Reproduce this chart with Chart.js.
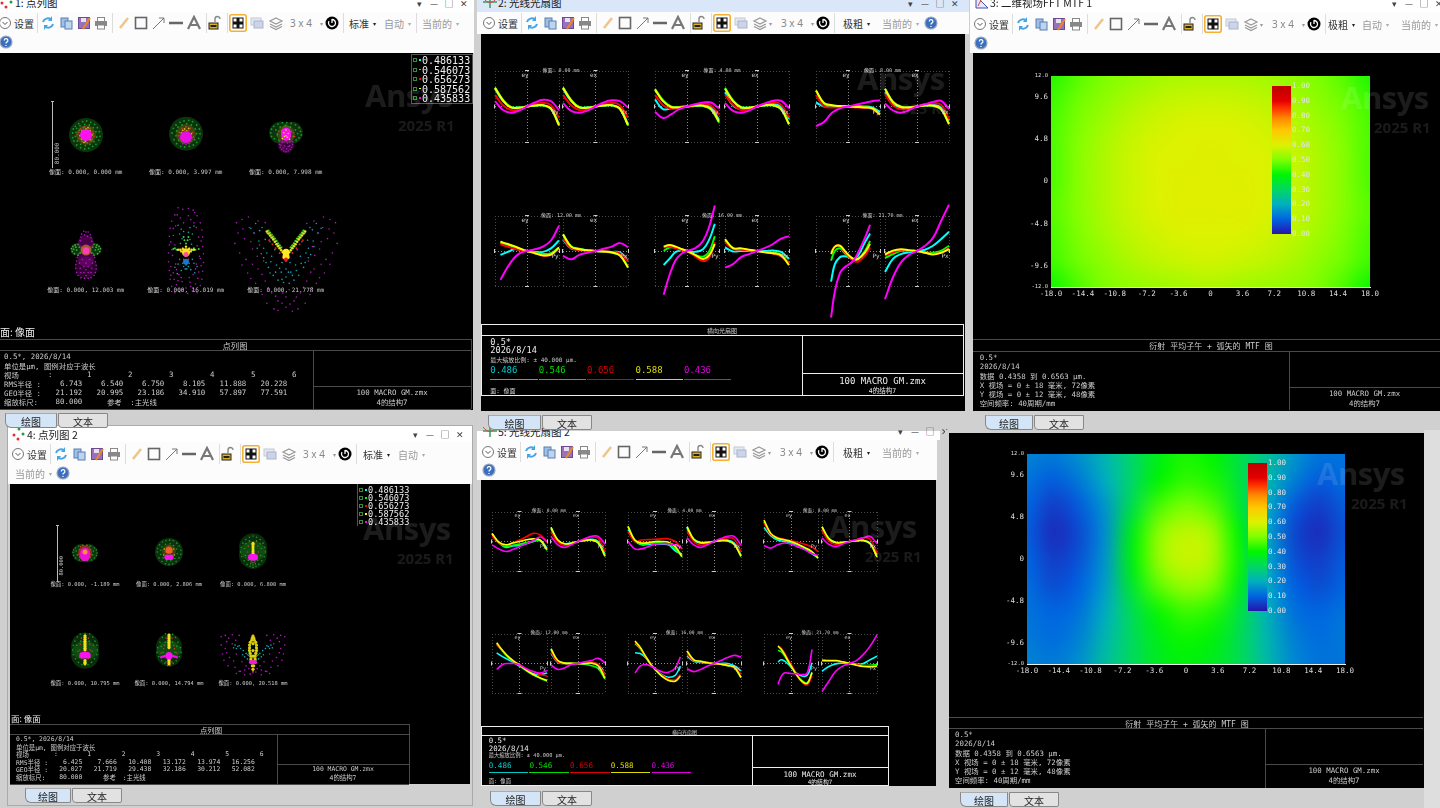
<!DOCTYPE html>
<html>
<head>
<meta charset="utf-8">
<script src="https://cdn.jsdelivr.net/npm/chart.js@4"></script>
<style>
html,body{margin:0;padding:0;background:#cfcfcf;overflow:hidden}
#root{position:relative;width:1440px;height:808px;overflow:hidden;filter:blur(.35px)}
#root div,#root span,#root canvas,#root svg{position:absolute}
#root span{white-space:pre;line-height:1}
</style>
</head>
<body>
<div id="root"></div>
<script>
// ---------- wavelengths ----------
const waveLabels = ["0.486", "0.546", "0.656", "0.588", "0.436"];
const waveLong = ["0.486133", "0.546073", "0.656273", "0.587562", "0.435833"];
const waveColors = ["#00ffff", "#00ff00", "#ff0000", "#ffff00", "#ff00ff"];
const waveTextColors = ["#00c8c8", "#00dc00", "#dc0000", "#dcdc00", "#dc00dc"];

// ---------- spot diagram tables ----------
const fieldsTop = ["0.000, 0.000", "0.000, 3.997", "0.000, 7.998", "0.000, 12.003", "0.000, 16.019", "0.000, 21.778"];
const fieldsBottom = ["0.000, -1.189", "0.000, 2.806", "0.000, 6.800", "0.000, 10.795", "0.000, 14.794", "0.000, 20.518"];
const rmsTop = ["6.743", "6.540", "6.750", "8.105", "11.888", "20.228"];
const geoTop = ["21.192", "20.995", "23.186", "34.910", "57.897", "77.591"];
const rmsBottom = ["6.425", "7.666", "10.408", "13.172", "13.974", "16.256"];
const geoBottom = ["20.027", "21.719", "29.438", "32.186", "30.212", "52.082"];

// spot points in um, x,y,x,y...
const spotA1_g = [-20,3,-19,9,-16,13,-11,17,-5,20,1,21,7,19,13,16,17,11,20,5,21,-2,19,-8,15,-14,10,-17,4,-20,-2,-21,-8,-19,-14,-15,-18,-9,-20,-4,-15,4,-14,10,-9,14,-2,16,5,15,11,11,15,5,16,-3,12,-10,6,-14,-1,-16,-8,-14,-13,-9,-16,-2,-10,7,-4,11,6,10,11,2,9,-7,0,-11,-6,-9];
const spotA1_r = [-11,4,-8,9,-2,12,5,10,10,5,12,-2,8,-9,2,-12,-5,-10,-10,-5,-13,1,-6,7,7,7,9,-4];
const spotA1_y = [-9,-1,-6,6,0,9,6,6,9,0,6,-7,-1,-9,-7,-6,3,11,-3,-11];
const spotA1_core = [0,0];
const spotA2_g = [-21,3,-19,10,-15,15,-9,19,-3,21,4,22,10,20,16,15,20,9,21,2,19,-5,16,-11,11,-15,5,-17,-2,-18,-8,-17,-14,-13,-18,-7,-14,6,-12,12,-6,15,1,17,8,15,14,9,16,2,13,-7,-11,-8,-15,-1];
const spotA2_r = [-10,4,-6,10,0,12,6,10,10,4,11,-3,7,-9,-8,-7,-11,-1,-3,7,4,7];
const spotA2_y = [-7,3,-2,9,4,10,8,2,-5,7,1,6,6,-4,-6,-3];
const spotA2_m = [-7,-10,-3,-12,3,-12,7,-9,-9,-5,9,-5,-5,-13,5,-13,0,-14];
const spotA2_core = [0,-3];
const spotA3_g = [-21,3,-20,8,-17,12,-11,15,-5,17,1,17,7,16,13,14,18,10,20,5,21,0,18,-4,14,-7,-16,-5,-20,-2,-10,-7,-14,7,-8,11,-1,13,6,11,13,7,16,2,10,-2,-12,1,-6,6,7,5];
const spotA3_r = [-5,3,-10,5,-12,-1,4,7,10,3,12,-2,-2,9,6,-2];
const spotA3_y = [-3,3,0,7,3,2,-2,-2,2,-3,0,-1,-5,-5,5,-6];
const spotA3_m = [-9,-9,-9,-13,-8,-17,-6,-20,-3,-22,0,-23,3,-22,6,-20,8,-17,9,-13,9,-9,-5,-10,-2,-15,2,-11,5,-15,-4,-18,1,-19,0,-7,-7,-14,6,-9,3,-16];
const spotA3_core = [0,-1,0,3];
const spotA4_g = [-20,6,-19,2,-18,9,-16,-1,-15,11,-13,4,-11,-3,-11,12,-9,8,20,6,19,2,18,9,16,-1,15,11,13,4,11,-3,11,12,9,8,-17,5,17,5,-14,8,14,8,-8,0,8,0];
const spotA4_m = [-3,30,0,29,3,29,-6,26,6,25,-7,22,7,21,-2,25,2,23,-8,17,8,16,-12,-6,12,-6,-13,-11,13,-12,-14,-16,14,-17,-14,-21,14,-22,-13,-27,13,-27,-11,-31,11,-31,-7,-34,7,-34,-2,-35,3,-35,-9,-14,9,-14,-8,-21,8,-21,-7,-27,7,-27,-3,-19,3,-19,-3,-27,3,-27,0,-14,0,-23,0,-31,-5,-9,5,-9,-10,-1,10,-1];
const spotA4_haze = [0,14,0,-8];
const spotA4_core = [0,3];
const spotA5_m = [-10,57,-4,55,3,56,9,54,-14,48,14,47,-18,40,-7,44,6,42,18,38,-20,31,20,29,-13,34,13,32,-21,21,21,20,-16,22,16,20,-21,10,21,8,-14,10,14,9,-22,0,22,-1,-17,-3,17,-4,-22,-11,22,-12,-13,-14,13,-14,-21,-22,21,-23,-16,-25,16,-24,-20,-33,20,-33,-9,-27,9,-27,-18,-42,18,-41,-12,-40,12,-39,-5,-36,5,-37,-8,-49,8,-48,0,-44,-14,-50,14,-50,2,-51,-11,48,11,51,-16,31,3,47,-3,38,10,38,-19,14,19,15,-18,4,18,-7,-19,-17,19,-16,-15,-33,15,-32,-19,-28,9,-44,-4,-46,-6,-31,4,-31,-12,-21,12,-20,-10,-35,6,-42];
const spotA5_c = [-10,35,-6,30,5,32,10,34,-8,24,8,24,-5,18,5,17,-3,27,3,26,-7,12,7,11,-4,-13,4,-13,-3,-17,3,-17,-1,-20,1,-20,0,-15,-8,-8,8,-8,-10,-14,10,-13,-6,-22,6,-21,-14,-18,14,-17,-11,-26,11,-25];
const spotA5_g = [-16,5,-12,4,-8,4,-4,6,16,5,12,4,8,4,4,6,-14,6,10,6,0,12,-2,16,2,16,-3,20,3,20];
const spotA5_y = [-10,4,-7,4,-4,5,10,4,7,4,4,5,0,8,-6,2,6,2];
const spotA5_r = [-3,-8,3,-8,0,-10];
const spotA5_blue = [0,-11];
const spotA5_core = [0,1];
const spotA5_pink = [0,-2];
const spotA6_m = [-62,38,-55,42,-47,45,-35,40,-60,25,-64,12,-52,18,-40,25,62,38,55,42,47,45,35,40,60,25,64,12,52,18,40,25,-58,0,-50,-8,-42,5,58,0,50,-8,42,5,-48,-25,-35,-20,48,-25,35,-20,-38,-38,-26,-35,38,-38,26,-35,-30,-52,-18,-50,30,-52,18,-50,-24,-63,-10,-60,24,-63,10,-60,-10,-72,0,-68,8,-73,0,-55,-28,-10,28,-10,-46,32,46,32,-15,-70,15,-70,-54,30,-44,14,-33,10,-55,-15,-42,-14,-30,-27,-44,-32,-22,-44,-13,-54,-5,-63,5,-64,13,-55,22,-43,33,-44,42,-31,31,-24,44,-14,55,-14,33,8,44,14,54,30,-26,38,26,37,-36,-4,36,-3,-4,-50,4,-46];
const spotA6_c = [-38,37,-30,32,-24,25,-34,15,-28,6,-20,14,-28,-6,-18,-4,-22,-18,-12,-15,-16,-28,-6,-24,-10,-34,0,-30,38,37,30,32,24,25,34,15,28,6,20,14,28,-6,18,-4,22,-18,12,-15,16,-28,6,-24,10,-34,40,25,-40,25,0,-20,-5,-12,5,-12,-14,4,14,4,-33,28,-26,17,-36,6,-31,-1,-24,0,-25,-12,-19,-11,-20,-25,-13,-24,-5,-33,-8,-19,3,-24,8,-28,13,-22,19,-13,24,-12,25,0,31,-2,35,8,27,16,33,29,-44,31,44,31,-3,-37,4,-38];
const spotA6_y = [-24,27,-22,24.5,-20,22,-18,19.5,-16,17,-14,14,-12,11,-10,8.5,-8,6,-6,3.5,-4,1,24,27,22,24.5,20,22,18,19.5,16,17,14,14,12,11,10,8.5,8,6,6,3.5,4,1];
const spotA6_g = [-22,28,-20,25.5,-18,23,-16,20.5,-14,18,-12,15,-10,12,-8,9.5,-6,7,22,28,20,25.5,18,23,16,20.5,14,18,12,15,10,12,8,9.5,6,7];
const spotA6_r = [-21,16,-17,11,-13,6,-8,0,21,16,17,11,13,6,8,0,-4,-6,4,-6,0,-10];
const spotA6_core = [0,1,0,-4];

const spotB1_g = [-19,1,-18,5,-15,8,-10,11,-4,12,3,12,9,11,15,8,18,5,19,0,18,-4,15,-8,10,-11,4,-12,-3,-12,-9,-11,-15,-8,-18,-4,-14,3,-12,-3,13,3,12,-3,-8,6,8,6,-8,-6,8,-6];
const spotB1_r = [-7,10,-3,12,3,12,7,10,-9,5,9,5,-9,-2,9,-2,-8,-7,8,-7,-4,-11,4,-11];
const spotB1_halo = [-6,0,6,0];
const spotB1_core = [0,0,0,-5];
const spotB1_orange = [0,1.5];
const spotB2_g = [-20,0,-19,6,-16,12,-11,17,-5,19,1,20,7,19,13,15,17,10,20,3,20,-4,17,-10,12,-16,6,-20,0,-21,-6,-20,-12,-16,-17,-10,-14,3,-12,9,-6,13,2,14,8,11,13,5,14,-3,10,-11,3,-15,-4,-15,-10,-10,-14,-4];
const spotB2_r = [-5,4,5,4,-3,8,3,8,0,10,-6,0,6,0];
const spotB2_y = [0,4,-3,1,3,1,-8,5,8,5,-1,-11,1,-11,-9,-5,9,-5];
const spotB2_orange = [0,3];
const spotB2_core = [-3,-9,3,-9];
const spotB3_g = [-21,0,-20,8,-17,15,-12,21,-6,25,0,27,6,25,12,21,17,15,20,8,21,0,19,-8,15,-15,10,-21,5,-24,0,-26,-5,-24,-10,-21,-15,-15,-19,-8,-14,6,-12,14,-6,19,6,19,12,14,14,6,13,-6,8,-14,-8,-14,-13,-6,-4,-20,4,-20,0,-18,0,-22,-2,-14,2,-14];
const spotB3_r = [-8,10,8,10,-9,0,9,0,-6,18,6,18,-6,-10,6,-10,-3,-17,3,-17];
const spotB3_y = [0,15,0,13,0,10,0,7,0,4,0,1,0,-2,0,-5];
const spotB3_core = [0,-9,-3,-9,3,-9];
const spotB4_g = [-8,27,0,28,8,27,-13,22,13,22,-17,15,17,15,-20,8,20,8,-21,0,21,0,-20,-8,20,-8,-16,-15,16,-15,-11,-21,11,-21,-5,-25,5,-25,0,-26,-14,8,14,8,-12,-2,12,-2,-7,15,7,15,-9,-12,9,-12];
const spotB4_r = [-6,20,6,20,-8,10,8,10,-9,0,9,0,-6,-14,6,-14];
const spotB4_y = [0,24,0,21,0,18,0,15,0,12,0,9,0,6,0,3,0,0,0,-18,0,-21,0,-23];
const spotB4_core = [0,-9,-4,-9,4,-9];
const spotB5_g = [-6,27,0,26,6,26,-11,21,11,21,-15,13,15,13,-19,4,19,4,-20,-4,20,-4,-17,-11,17,-11,-12,-18,12,-18,-7,-22,7,-22,-13,6,13,6,-10,-4,10,-4,-6,13,6,13];
const spotB5_r = [-5,20,5,20,-8,8,8,8,-13,-5,13,-5,-5,-20,5,-20,-2,-26,2,-26,-9,2,9,2];
const spotB5_y = [0,25,0,22,0,19,0,16,0,13,0,10,0,7,0,4,0,-14,0,-17,0,-20,0,-23];
const spotB5_m = [-13,-12,-10,-11,-7,-10,13,-12,10,-11,7,-10,-2,-14,2,-14];
const spotB5_core = [0,-9];
const spotB6_m = [-46,22,-40,24,-30,25,-20,24,46,22,40,24,30,25,20,24,-46,10,-40,5,-30,12,46,10,40,5,30,12,-44,-3,-34,-8,-24,-3,44,-3,34,-8,24,-3,-36,-20,-26,-22,-16,-14,36,-20,26,-22,16,-14,-24,-31,-12,-26,24,-31,12,-26,-12,-33,0,-30,12,-33,-18,-28,18,-28,-38,15,38,15,-6,-24,6,-24,-35,20,-25,17,-38,-1,-28,-13,-20,-28,-10,-20,-4,-32,4,-29,10,-20,20,-28,28,-13,38,-1,25,17,35,20,-42,-12,42,-12];
const spotB6_c = [-26,10,-22,8,-18,5,-14,2,-10,-2,-6,-5,26,10,22,8,18,5,14,2,10,-2,6,-5,-24,5,24,5,-15,-4,15,-4,-8,-10,8,-10,-28,6,28,6,-20,9,20,9,-12,-7,12,-7];
const spotB6_g = [-8,-4,8,-4,-5,-12,5,-12,-4,8,4,8,-6,0,6,0];
const spotB6_y = [0,23,-1,20,1,20,-2,17,2,17,-4,14,4,14,-5,10,5,10,-5,6,5,6,-5,2,5,2,-4,-2,4,-2,-3,-6,3,-6,-3,-10,3,-10,-2,-14,2,-14,-1,-20,1,-20,0,-25,0,-6,0,2,0,12];
const spotB6_r = [0,24,0,-28,-2,21,2,21,-1,-25,1,-25,-6,4,6,4,-5,-2,5,-2];
const spotB6_core = [0,-15,-3,-15,3,-15];

// ---------- ray fans: um at pupil positions, order cyan, green, red, yellow, magenta ----------
const pupilFull = [-1,-.75,-.5,-.25,0,.25,.5,.75,1];
const pupil12y = [-.83,-.6,-.4,-.2,0,.25,.5,.75,1];
const pupil16y = [-.73,-.55,-.35,-.15,0,.25,.5,.7,.87];
const pupil21y = [-.53,-.41,-.25,-.13,0,.17,.32,.53,.69];
const pupilLow12y = [-.83,-.6,-.4,-.2,0,.25,.5,.75,1];
const pupilLow16y = [-.74,-.55,-.35,-.15,0,.25,.5,.75,.94];
const pupilLow21y = [-.48,-.37,-.25,-.1,0,.2,.4,.6,.78];

const fanA1y = [[20,6,-1,-1.2,0,1,1.5,-2,-20],[21.5,7.5,-.5,-1,0,1,1,-3,-21.5],[13,1.5,-4,-3.5,0,3,4,1.5,-13],[21,7,-1,-1.5,0,1.2,1.5,-2.5,-21],[6,-4,-7,-4.5,0,4.5,7.5,6,-4]];
const fanA1x = [[20,6,-1,-1.2,0,1,1.5,-2,-20],[21.5,7.5,-.5,-1,0,1,1,-3,-21.5],[13,1.5,-4,-3.5,0,3,4,1.5,-13],[21,7,-1,-1.5,0,1.2,1.5,-2.5,-21],[4,-5,-7,-4.5,0,4.5,7,6,-1]];
const fanA2y = [[8,-3,-2,-.5,0,.5,1.5,-1,-15],[20,7,0,-.5,0,.5,.5,-3.5,-18],[13,1.5,-2.5,-1.5,0,1.5,3,1,-9],[19,6,-.5,-1,0,1,1,-3,-17],[-6,-13,-9,-3,0,2.5,4.5,4.5,-2]];
const fanA2x = [[16,1,-3,-2,0,2,3,0,-14],[21,7,-.5,-1,0,1,1,-3,-20],[13,2,-4,-3,0,3,4.5,2,-12],[20,6,-1,-1.5,0,1.5,1.5,-3,-20],[4,-5,-7,-4.5,0,3.5,6.5,6.5,-2]];
const fanA3y = [[4.5,0,0,.2,.3,.3,0,-1,-6],[18,3,1,.5,0,0,-.5,-2,-8],[13,0,-1,-.7,-.5,-1,-1.5,-2.5,-9],[18,4,1.5,.5,0,-.5,-1,-2,-9],[-22,-17.5,-7,-2,0,2,4,6,7]];
const fanA3x = [[16,2,-2,-1,0,1.5,2,-1,-16],[20,5.5,0,-1,0,1,.5,-3,-19],[14,1,-3,-2,0,2.5,3.5,2,-14],[20,5,-.5,-1,0,1,1,-3,-20],[3.5,-4.5,-7,-4,0,2.5,5,6.5,-3]];
const fanA4y = [[-4.5,-1,2,1.5,0,-1,-1,3,12],[9.5,7,4.5,2.5,0,-2,-3.5,-2.5,4],[7.5,5,2.5,1,0,-2.5,-5.5,-4.5,3],[10.5,8,5.5,2.5,0,-2.5,-5,-4,4],[-33,-18,-8,-2,0,2,5,12,29]];
const fanA4x = [[13,3,1.5,.7,0,-.5,-1,-1.5,-11],[19,5.5,2.5,1,0,-1,-2,-5,-18],[14,3.5,1,.5,0,-.5,-1,-3,-12],[19,5,2,1,0,-.7,-1.5,-5,-19],[-5.5,-9.5,-4.5,-2,0,2.5,5,9,4.5]];
const fanA5y = [[-16,-9,-1,1,0,-1,2,13.5,31],[0,4,4,1.5,0,-4.5,-6.5,0,17],[4,5,3,1,0,-6,-11.5,-7,10],[5,7,5,2,0,-4.5,-9,-4.5,8],[-50,-28,-10,-2.5,0,3,11.5,28.5,52]];
const fanA5x = [[4,-.5,0,0,0,0,.5,-1,-9],[12,3,2.5,1,0,-1,-2,-4,-14],[10,2.5,1.5,.7,0,-1.5,-3,-6,-13],[13.5,3.4,3,1.5,0,-1.5,-2.5,-5,-16],[-19,-15,-7,-3.5,0,3.5,8,14,17]];
const fanA6y = [[-35,-15,-7,-6,-6.5,-9,-5,10,20],[-11,0,3,-1.5,-6,-10,-9,0,11.5],[-1.5,5,6,0,-5,-11,-12,-5,4],[-3.5,5,6,1.5,-4,-9,-9,-1.5,8],[-76,-46,-25,-19.5,-16,-11,-1.5,15,30]];
const fanA6x = [[-24,-9,-3.5,-1.5,0,1.5,6,13.5,22],[-8,-3.5,.4,.4,0,-1.5,-2,0,6],[-5,-1.5,1,.4,0,-2,-3.5,-2,3.5],[-4,.4,2,1,0,-2,-4,-2,2],[-55,-30,-13,-4.5,0,6,15,34,53]];

const fanB1y = [[10,-1,-8,-6,-5.5,-3,0,2,-9],[11,-2,-7,-5,-3.6,-1.5,0,1,-12],[7,-2,-4.5,-2,2,6.5,11,9,-1],[11,-1,-4.5,-2,0,2.3,3.6,2,-11],[-4.5,-10,-13.6,-11,-7,-3,1.4,6,0]];
const fanB1x = [[17,1,-3,-2,0,2,3,0,-17],[19,2,-3,-2.5,0,1.5,2,-2,-20],[13,-.5,-5.5,-3.5,0,3,6,4.5,-13],[19,2,-3,-2.5,0,1.5,2,-2,-20],[7,-4.5,-8,-4.5,0,3.6,7,7,-3.6]];
const fanB2y = [[16,1,-4.5,-4,-3.6,-3.5,-4.5,-12.5,-17],[20.5,2,-3.6,-2.5,-1.4,-2,-3.6,-10,-20.5],[13.6,0,2,2.5,3,3.5,3.6,0,-10],[20.5,2,-2,-1.5,0,0,-1,-7,-20.5],[0,-10,-10,-7,-3.6,-3,-3,-4.5,-9]];
const fanB2x = [[18,1,-2,-1,0,1,2,-2,-18],[20,3.5,-1,-1,0,1,.5,-4,-20],[14,0,-5,-3,0,3,5,3,-14],[20,3,-1.5,-1.5,0,1.5,1,-4,-20],[5,-4.5,-8,-4.5,0,4,7,7,-5]];
const fanB3y = [[19,8,2,0,-2,-7,-10,-16,-22],[27,10,4,2,-.5,-4,-8.5,-14,-23],[25,10,5.5,3,1,-1,-3.6,-7,-13.6],[29,11,4.5,2.3,0,-3.6,-8,-13,-22],[-5.5,-9,-4.5,-2,-3.6,-7,-11,-16,-19]];
const fanB3x = [[16,2,-1.5,-1,0,1,1.5,-2,-17],[20,4,-1,-1,0,1,1,-3,-21],[15,.5,-4,-2.5,0,2.5,5,3,-15],[20,4,-1.5,-1.5,0,1,1.5,-3,-21],[5,-4,-7,-3.5,0,2.5,5,7,-3]];
const fanB4y = [[14.5,9,5,1,-3.6,-9,-14,-15,-13],[26,16,8,2.5,-3,-10,-15.5,-20,-24],[27,17,9,3,-2,-8,-11,-15,-17],[28,17,9,3,-2,-9,-15,-19.5,-23],[-8,-1,0,0,-2,-7,-11,-13,-9.5]];
const fanB4x = [[14,1.5,0,0,0,.5,1,-1.5,-15],[19,4,1,.5,0,-1,-3,-7,-21],[15,2,0,0,0,.5,1,-1,-15],[20,4,.5,.2,0,-.2,.5,-3.5,-20],[-2,-8,-6,-1.5,0,2.3,4,7,1]];
const fanB5y = [[14.5,13.5,8,-1.5,-7,-15,-18.6,-16,-3.6],[27,20,9,-1,-8,-17,-22.5,-23,-16],[29.5,21,9.5,-1,-7,-15.5,-21,-22,-15],[30.5,22,10,-1.5,-8,-17,-23,-24,-17],[-13,-3.6,-1.4,-3.6,-7,-11,-12,-6,9]];
const fanB5x = [[10,3,1.5,.7,0,0,0,-3,-10],[17,5,3,1.5,0,-1,-3,-6,-19],[13,4,2.5,1,0,-1,-2,-6,-14],[17,5,3,1,0,-1,-2.5,-5,-19],[-7,-11,-8,-3.6,0,4,8,11,9]];
const fanB6y = [[2,5,3.5,-1,-5,-13,-17,-16,1],[18,16,11,2,-3,-15,-23,-26,-13],[24,21,15,5,-1,-14,-25,-29,-17],[23.5,19.5,13,3,-3,-15,-24,-27,-12],[-28.5,-18,-13,-13,-13.6,-14,-15,-13,19]];
const fanB6x = [[-10.5,-4,-.5,.5,0,-1,0,5,10],[4,3,3,2,0,-1.5,-2.5,-2.5,-1.5],[3.5,3.5,3.5,2,0,-1.5,-3,-3.5,-4],[4.5,4,4,2.3,0,-2.3,-4,-4.5,-3.6],[-38,-24,-10.5,-3.6,0,4,12,23.6,38.6]];
const fanTitles = ["0.00", "4.00", "8.00", "12.00", "16.00", "21.70"];

// ---------- MTF maps ----------
const mapX = [-18,-15,-12,-9,-6,-3,0,3,6,9,12,15,18];
const mapY = [12,9,6,3,0,-3,-6,-9,-12];
const mapA = [
  [.43,.47,.50,.52,.54,.55,.55,.55,.54,.52,.50,.47,.42],
  [.45,.49,.52,.55,.57,.58,.585,.58,.57,.55,.52,.49,.45],
  [.46,.50,.54,.57,.59,.60,.60,.60,.59,.57,.54,.50,.46],
  [.46,.51,.55,.58,.60,.60,.61,.60,.60,.58,.55,.51,.46],
  [.46,.51,.55,.58,.60,.61,.61,.61,.60,.58,.55,.51,.46],
  [.47,.51,.55,.58,.60,.61,.61,.61,.60,.58,.55,.51,.47],
  [.46,.50,.54,.57,.59,.60,.60,.60,.59,.57,.54,.50,.46],
  [.45,.49,.52,.55,.57,.58,.59,.58,.57,.55,.52,.49,.45],
  [.41,.46,.50,.52,.53,.54,.55,.54,.53,.52,.50,.46,.41]
];
const mapB = [
  [.14,.13,.16,.22,.30,.38,.42,.40,.33,.25,.17,.12,.12],
  [.12,.09,.13,.20,.30,.40,.44,.42,.34,.23,.14,.09,.11],
  [.10,.05,.09,.17,.33,.46,.50,.47,.36,.20,.09,.05,.09],
  [.09,.03,.07,.16,.38,.52,.57,.54,.40,.19,.07,.03,.08],
  [.10,.05,.08,.17,.39,.53,.58,.55,.41,.20,.08,.05,.09],
  [.11,.07,.10,.18,.36,.48,.53,.50,.38,.20,.10,.07,.10],
  [.12,.10,.12,.20,.32,.41,.45,.43,.34,.21,.12,.10,.12],
  [.13,.11,.14,.22,.31,.38,.41,.39,.32,.22,.14,.11,.13],
  [.14,.13,.16,.24,.31,.37,.39,.37,.32,.23,.15,.12,.12]
];
const mapXTicks = [-18,-14.4,-10.8,-7.2,-3.6,0,3.6,7.2,10.8,14.4,18];
const mapYTicks = [-12,-9.6,-4.8,0,4.8,9.6,12];
const barStops = [[0,38,20,170],[.1,0,100,225],[.2,0,175,190],[.3,0,215,100],[.4,0,245,0],[.5,125,255,0],[.6,220,242,0],[.7,255,200,0],[.78,255,140,0],[.85,255,50,0],[.9,228,0,0],[1,190,0,0]];

// ---------- setup ----------
const root = document.getElementById("root");
const MONO = '"DejaVu Sans Mono","Noto Sans CJK SC",monospace';
const CJK = '"Noto Sans CJK SC","Noto Sans",sans-serif';
Chart.defaults.animation = false;
Chart.defaults.responsive = false;
Chart.defaults.devicePixelRatio = 1;
Chart.defaults.events = [];
Chart.defaults.plugins.legend.display = false;
Chart.defaults.plugins.tooltip.enabled = false;

function box(x, y, w, h, css) {
    const d = document.createElement("div");
    d.style.cssText = `left:${x}px;top:${y}px;width:${w}px;height:${h}px;${css || ""}`;
    root.appendChild(d);
    return d;
}

// text placed by its vertical middle; anchor l, c, r
function text(str, x, y, size, color, anchor, font, extra) {
    const s = document.createElement("span");
    const tx = anchor === "c" ? "-50%" : anchor === "r" ? "-100%" : "0";
    s.textContent = str;
    s.style.cssText = `left:${x}px;top:${y}px;font:${size}px ${font || MONO};color:${color || "#ddd"};transform:translate(${tx},-50%);${extra || ""}`;
    root.appendChild(s);
    return s;
}

function newCanvas(x, y, w, h) {
    const c = document.createElement("canvas");
    c.width = w;
    c.height = h;
    c.style.cssText = `left:${x}px;top:${y}px;width:${w}px;height:${h}px`;
    root.appendChild(c);
    return c;
}

function svg(x, y, w, h, inner) {
    const holder = document.createElement("div");
    holder.style.cssText = `left:${x}px;top:${y}px;width:${w}px;height:${h}px`;
    holder.innerHTML = `<svg width="${w}" height="${h}" viewBox="0 0 ${w} ${h}" style="left:0;top:0">${inner}</svg>`;
    root.appendChild(holder);
}

const ICONS = {
    chev: '<circle cx="8" cy="8" r="5.5" fill="#fff" stroke="#777"/><path d="M5.5 7l2.5 2.5L10.5 7" fill="none" stroke="#555"/>',
    refresh: '<path d="M3 7a5 5 0 0 1 8-2.5M13 9a5 5 0 0 1-8 2.5" fill="none" stroke="#45a5e5" stroke-width="2"/><path d="M12 1v5H8zM4 15v-5h4z" fill="#45a5e5"/>',
    copy: '<rect x="3" y="3" width="7" height="9" fill="#9cc0e8" stroke="#5a7fae"/><rect x="7" y="6" width="7" height="8" fill="#bcd4f0" stroke="#5a7fae"/>',
    save: '<rect x="2.5" y="2.5" width="11" height="11" fill="#9a70bc" stroke="#6a4a90"/><rect x="5" y="3" width="5" height="4" fill="#e8e0f0"/><path d="M7 14L14 3" stroke="#e88a20" stroke-width="2"/>',
    print: '<rect x="4.5" y="2.5" width="7" height="4" fill="#fff" stroke="#888"/><rect x="2" y="6" width="12" height="5" fill="#888"/><rect x="4.5" y="10" width="7" height="4" fill="#fff" stroke="#888"/>',
    pencil: '<path d="M4 13L12 3" stroke="#f0c488" stroke-width="2.5"/>',
    rect: '<rect x="2.5" y="2.5" width="11" height="11" fill="none" stroke="#666" stroke-width="1.6"/>',
    arrow: '<path d="M2 14L13 3M8 3h5v5" fill="none" stroke="#777"/>',
    line: '<path d="M1 8h14" stroke="#666" stroke-width="2.5"/>',
    letter: '<path d="M2 14L8 2l6 12M4.5 10h7" fill="none" stroke="#777" stroke-width="2.2"/>',
    lock: '<rect x="2" y="8" width="9" height="6" fill="#e0b020" stroke="#222"/><rect x="3.5" y="10" width="6" height="2" fill="#222"/><path d="M8 7V4a2.5 2.5 0 0 1 5 0" fill="none" stroke="#888" stroke-width="1.4"/>',
    sel: '<rect x=".8" y=".8" width="16.4" height="16.4" rx="2" fill="#fff" stroke="#f4b030" stroke-width="1.6"/><rect x="3.5" y="3.5" width="11" height="11" fill="#111"/><rect x="4.5" y="4.5" width="3" height="3" fill="#fff"/><rect x="10.5" y="4.5" width="3" height="3" fill="#fff"/><rect x="4.5" y="10.5" width="3" height="3" fill="#fff"/><rect x="10.5" y="10.5" width="3" height="3" fill="#fff"/>',
    stack: '<rect x="2" y="3" width="10" height="7" fill="#e4e8f0" stroke="#c0c8d8"/><rect x="5" y="6" width="9" height="7" fill="#ccd4e8" stroke="#aab4cc"/>',
    layers: '<path d="M8 3l6 3-6 3-6-3zM2 9l6 3 6-3M2 11.5l6 3 6-3" fill="none" stroke="#999" stroke-width="1.2"/>',
    timer: '<circle cx="8" cy="8" r="6.5" fill="#000"/><path d="M8 4.5a3.5 3.5 0 1 1-3 1.7M8 8V4" fill="none" stroke="#fff" stroke-width="1.3"/>',
    help: '<circle cx="8" cy="8" r="6" fill="#3a6fc0" stroke="#9aa8c0" stroke-width="1.2"/><path d="M6.3 6.5a1.8 1.8 0 1 1 2.5 1.6c-.6.3-.8.7-.8 1.4M8 11v1" fill="none" stroke="#fff" stroke-width="1.3"/>',
    dotsLogo: '<circle cx="8" cy="3" r="1.5" fill="#2a9a3a"/><circle cx="3" cy="9" r="1.5" fill="#e03030"/><circle cx="12" cy="8" r="1.5" fill="#2a9a3a"/><circle cx="7" cy="13" r="1.5" fill="#e03030"/>',
    fanLogo: '<path d="M1 8h14M8 2v12" stroke="#3a9a5a" stroke-width="1.5"/><path d="M1 4c5 6 9 6 14 0" fill="none" stroke="#d05050"/>',
    mtfLogo: '<path d="M2 14V2l12 12z" fill="#e8e8f8" stroke="#4050b0"/><path d="M4 12l3-6" stroke="#e04040"/>'
};

function icon(name, cx, cy) {
    const s = name === "sel" ? 18 : 16;
    svg(cx - s / 2, cy - s / 2, s, s, ICONS[name]);
}

function toolbar(c, y, shift) {
    const row = [["chev",0],["refresh",43],["copy",61],["save",79],["print",96],["pencil",119],["rect",136],["arrow",154],["line",171],["letter",189],["lock",210],["sel",233],["stack",252],["layers",271]];
    row.forEach(r => icon(r[0], c + r[1], y));
    text("设置", c + 9, y, 10, "#333", "l", CJK);
    [32, 107, 201, 222].forEach(o => box(c + o, y - 10, 1, 20, "background:#ddd"));
    if (shift) text("▾", c + 281, y, 6, "#999", "c", CJK);
    text("3 x 4", c + 285 + shift, y, 10, "#888", "l", '"Noto Sans"');
    text("▾", c + 316 + shift, y, 6, "#999", "c", CJK);
    icon("timer", c + 327 + shift, y);
    box(c + 338 + shift, y - 10, 1, 20, "background:#ddd");
}

function menu(str, x, y, dark) {
    text(str, x, y, 10, dark ? "#333" : "#999", "l", CJK);
    text("▾", x + str.length * 10 + 5, y, 6, dark ? "#222" : "#aaa", "c", CJK);
}

function titleBar(x, y, w, h, bg, title, textX, textY, controlsY, controlsX, logo) {
    box(x, y, w, h, `background:${bg}`);
    icon(logo, textX - 8, textY);
    text(title, textX, textY, 10.5, "#222", "l", CJK);
    ["▾", "—", "□", "✕"].forEach((g, i) => text(g, controlsX + i * 15, controlsY, 9, "#444", "c", CJK));
}

function tabs(x1, x2, y) {
    box(x1, y, x2 - x1, 15, "background:#d3e5f7;border:1px solid #888;border-top:1px solid #aaa;box-sizing:border-box;border-radius:0 0 2px 6px");
    text("绘图", (x1 + x2) / 2, y + 8, 10, "#222", "c", CJK);
    box(x2 + 1, y, 50, 15, "background:#e2e2e2;border:1px solid #888;box-sizing:border-box;border-radius:0 0 2px 4px");
    text("文本", x2 + 26, y + 8, 10, "#222", "c", CJK);
}

function watermark(x, y, bigX) {
    text("Ansys", x, y, 31, "rgba(255,255,255,.11)", "l", '"Open Sans"', "font-weight:700;letter-spacing:-.5px");
    text("2025 R1", bigX, y + 30, 15, "rgba(255,255,255,.10)", "l", '"Open Sans"', "font-weight:700");
}

function rule(x, y, w, h, color) {
    box(x, y, w, h, `background:${color}`);
}

// ---------- spot charts ----------
function pairs(a) {
    const out = [];
    for (let i = 0; i < a.length; i += 2) out.push({ x: a[i], y: a[i + 1] });
    return out;
}
const DIM = { c: "#13a8b0", g: "#1c9a28", r: "#c03a28", y: "#c8b820", m: "#b018c0" };

function dots(a, color, r) {
    return { data: pairs(a), backgroundColor: color, pointRadius: r || .8 };
}

function spot(cx, cy, pxPerUm, layers) {
    const S = 170;
    const half = S / 2 / pxPerUm;
    new Chart(newCanvas(cx - S / 2, cy - S / 2, S, S), {
        type: "scatter",
        data: {
            datasets: layers.map((l, i) => Object.assign(l, { order: layers.length - i, borderWidth: 0, clip: false, pointHoverRadius: 0 }))
        },
        options: {
            scales: {
                x: { display: false, min: -half, max: half },
                y: { display: false, min: -half, max: half }
            }
        }
    });
}

// ---------- ray fan charts ----------
const fanMarks = {
    id: "fanMarks",
    afterDraw(chart, args, opts) {
        const ctx = chart.ctx, a = chart.chartArea;
        const mx = (a.left + a.right) / 2, my = (a.top + a.bottom) / 2;
        ctx.save();
        ctx.fillStyle = "#ccc";
        ctx.font = opts.size + 'px "DejaVu Sans Mono"';
        ctx.textAlign = "center";
        ctx.fillText(opts.up, mx - 2, a.top + opts.size);
        ctx.fillText(opts.side, a.right - 4, my + opts.size + 1);
        ctx.fillRect(mx - 2, a.top - 1, 4, 1);
        ctx.fillRect(mx - 2, a.bottom, 4, 1);
        ctx.fillRect(a.left - 1, my - 2, 1, 4);
        ctx.fillRect(a.right, my - 2, 1, 4);
        ctx.restore();
    }
};

function fan(left, right, top, bottom, pupil, series, up, side, width, size) {
    const mX = 4, mY = 44;
    const w = Math.round(right - left), h = Math.round(bottom - top);
    const gridColor = c => c.tick && c.tick.value === 0 ? "#8a8a8a" : "#484848";
    new Chart(newCanvas(Math.round(left) - mX, Math.round(top) - mY, w + 2 * mX, h + 2 * mY), {
        type: "scatter",
        data: {
            datasets: series.map((vals, i) => ({
                data: vals.map((v, j) => ({ x: pupil[j], y: v })),
                showLine: true,
                borderColor: waveColors[i],
                borderWidth: width,
                tension: .4,
                pointRadius: 0,
                clip: false,
                order: series.length - i
            }))
        },
        options: {
            layout: { padding: { left: mX, right: mX, top: mY, bottom: mY } },
            plugins: { fanMarks: { up: up, side: side, size: size } },
            scales: {
                x: {
                    min: -1, max: 1,
                    ticks: { display: false, stepSize: 1 },
                    border: { display: false, dash: [1, 2] },
                    grid: { drawTicks: false, color: gridColor }
                },
                y: {
                    min: -40, max: 40,
                    ticks: { display: false, stepSize: 40 },
                    border: { display: false, dash: [1, 2] },
                    grid: { drawTicks: false, color: gridColor }
                }
            }
        },
        plugins: [fanMarks]
    });
}

// ---------- MTF map charts ----------
function mapColor(v) {
    for (let i = 1; i < barStops.length; i++) {
        if (v <= barStops[i][0]) {
            const a = barStops[i - 1], b = barStops[i], t = (v - a[0]) / (b[0] - a[0]);
            return [a[1] + (b[1] - a[1]) * t, a[2] + (b[2] - a[2]) * t, a[3] + (b[3] - a[3]) * t];
        }
    }
    return barStops[barStops.length - 1].slice(1);
}

const mapCells = {
    id: "mapCells",
    beforeDatasetsDraw(chart) {
        const cells = chart.data.datasets[0].data;
        const cols = mapX.length, rows = mapY.length;
        const off = document.createElement("canvas");
        off.width = cols;
        off.height = rows;
        const octx = off.getContext("2d");
        const img = octx.createImageData(cols, rows);
        cells.forEach(cell => {
            const i = (mapY.indexOf(cell.y) * cols + mapX.indexOf(cell.x)) * 4;
            const rgb = mapColor(cell.v);
            img.data[i] = rgb[0];
            img.data[i + 1] = rgb[1];
            img.data[i + 2] = rgb[2];
            img.data[i + 3] = 255;
        });
        octx.putImageData(img, 0, 0);
        const sx = chart.scales.x, sy = chart.scales.y, a = chart.chartArea;
        const halfX = (mapX[1] - mapX[0]) / 2, halfY = (mapY[0] - mapY[1]) / 2;
        const left = sx.getPixelForValue(mapX[0] - halfX), right = sx.getPixelForValue(mapX[cols - 1] + halfX);
        const top = sy.getPixelForValue(mapY[0] + halfY), bottom = sy.getPixelForValue(mapY[rows - 1] - halfY);
        const ctx = chart.ctx;
        ctx.save();
        ctx.beginPath();
        ctx.rect(a.left, a.top, a.right - a.left, a.bottom - a.top);
        ctx.clip();
        ctx.imageSmoothingEnabled = true;
        ctx.imageSmoothingQuality = "high";
        ctx.drawImage(off, left, top, right - left, bottom - top);
        ctx.restore();
    }
};

function mapLabel(v) {
    return v === 0 ? "0" : v.toFixed(1);
}

function mapChart(left, top, w, h, grid) {
    const L = 40, R = 16, T = 8, B = 18;
    const cells = [];
    grid.forEach((row, r) => row.forEach((v, c) => cells.push({ x: mapX[c], y: mapY[r], v: v })));
    new Chart(newCanvas(left - L, top - T, w + L + R, h + T + B), {
        type: "scatter",
        data: { datasets: [{ data: cells, pointRadius: 0 }] },
        options: {
            layout: { padding: { top: T, right: R } },
            scales: {
                x: {
                    min: -18, max: 18,
                    afterBuildTicks: s => { s.ticks = mapXTicks.map(v => ({ value: v })); },
                    afterFit: s => { s.height = B; },
                    grid: { display: false, tickLength: 2, tickColor: "#999" },
                    border: { color: "#eee" },
                    ticks: { autoSkip: false, maxRotation: 0, padding: 1, color: "#ddd", font: { family: "DejaVu Sans Mono", size: 7.5 }, callback: mapLabel }
                },
                y: {
                    min: -12, max: 12,
                    afterBuildTicks: s => { s.ticks = mapYTicks.map(v => ({ value: v })); },
                    afterFit: s => { s.width = L; },
                    grid: { display: false, tickLength: 2, tickColor: "#999" },
                    border: { color: "#eee" },
                    ticks: {
                        autoSkip: false, padding: 1, color: "#ddd",
                        font: c => ({ family: "DejaVu Sans Mono", size: c.tick && Math.abs(c.tick.value) === 12 ? 5.5 : 7.5 }),
                        callback: mapLabel
                    }
                }
            }
        },
        plugins: [mapCells]
    });
}

function colorBar(left, top, w, h) {
    const pad = 6, lab = 30;
    new Chart(newCanvas(left, top - pad, w + lab, h + 2 * pad), {
        type: "bar",
        data: {
            labels: [""],
            datasets: [{
                data: [[0, 1]],
                barPercentage: 1,
                categoryPercentage: 1,
                backgroundColor: c => {
                    const a = c.chart.chartArea;
                    if (!a) return "#000";
                    const g = c.chart.ctx.createLinearGradient(0, a.bottom, 0, a.top);
                    barStops.forEach(s => g.addColorStop(s[0], `rgb(${s[1]},${s[2]},${s[3]})`));
                    return g;
                }
            }]
        },
        options: {
            layout: { padding: { top: pad, bottom: pad } },
            scales: {
                x: { display: false },
                y: {
                    position: "right",
                    min: 0, max: 1,
                    afterFit: s => { s.width = lab; },
                    grid: { display: false, drawTicks: false },
                    border: { display: false },
                    ticks: { stepSize: .1, padding: 1, color: "#e4e4e4", font: { family: "DejaVu Sans Mono", size: 7.5 }, callback: v => v.toFixed(2) }
                }
            }
        }
    });
}

// ---------- window chrome ----------
box(0, 0, 474, 430, "background:#d0d0d0");
titleBar(0, -1, 474, 13, "#fff", "1: 点列图", 15, 2, 3, 419, "dotsLogo");
box(0, 12, 474, 41, "background:#fcfcfc");
toolbar(5, 23, 0);
menu("标准", 349, 23, true);
menu("自动", 384, 23);
box(416, 13, 1, 20, "background:#ddd");
menu("当前的", 422, 23);
icon("help", 6, 42);
box(0, 53, 473, 357, "background:#000");

box(477, 0, 492, 430, "background:#d0d0d0");
titleBar(477, -1, 492, 13, "#d9e7f8", "2: 光线光扇图", 498, 2, 3, 910, "fanLogo");
box(477, 12, 492, 22, "background:#fcfcfc");
toolbar(489, 23, 7);
menu("极粗", 843, 23, true);
menu("当前的", 882, 23);
icon("help", 931, 23);
box(481, 34, 484, 377, "background:#000");

box(970, 0, 470, 430, "background:#d0d0d0");
titleBar(970, -1, 470, 13, "#fff", "3: 二维视场FFT MTF 1", 990, 2, 3, 1394, "mtfLogo");
box(970, 12, 470, 41, "background:#fcfcfc");
toolbar(980, 24, 7);
menu("极粗", 1328, 24, true);
menu("自动", 1362, 24);
menu("当前的", 1401, 24);
icon("help", 981, 43);
box(973, 53, 467, 358, "background:#000");

box(7, 425, 466, 381, "background:#d0d0d0;border:1px solid #aaa;box-sizing:border-box");
titleBar(8, 426, 464, 16, "#fff", "4: 点列图 2", 27, 434, 434, 415, "dotsLogo");
box(8, 442, 464, 42, "background:#fcfcfc");
toolbar(18, 454, 0);
menu("标准", 363, 454, true);
menu("自动", 398, 454);
menu("当前的", 15, 473);
icon("help", 63, 473);
box(10, 484, 460, 300, "background:#000");

box(477, 430, 471, 378, "background:#d0d0d0");
titleBar(477, 431, 463, 9, "#fff", "5: 光线光扇图 2", 498, 431, 431, 900, "fanLogo");
box(477, 440, 460, 40, "background:#fcfcfc");
toolbar(488, 452, 7);
menu("极粗", 843, 452, true);
menu("当前的", 882, 452);
icon("help", 489, 470);
box(481, 480, 455, 306, "background:#000");

box(945, 430, 495, 378, "background:#d0d0d0");
box(1424, 430, 16, 378, "background:#dedede");
box(949, 433, 475, 355, "background:#000");

tabs(5, 57, 413);
tabs(488, 541, 415);
tabs(985, 1033, 415);
tabs(25, 71, 788);
tabs(490, 541, 791);
tabs(960, 1008, 792);

// ---------- panel 1: spot diagram ----------
const pxA = 0.833;
const topRows = [134.7, 252.7];
spot(85.7, topRows[0], pxA, [
    dots(spotA1_core, "rgba(30,140,35,.38)", 17), dots(spotA1_g, DIM.g, .9), dots(spotA1_core, "rgba(190,120,20,.28)", 10),
    dots(spotA1_r, DIM.r, .9), dots(spotA1_y, DIM.y, .9), dots(spotA1_core, "#ff10f0", 6)
]);
spot(185.7, topRows[0], pxA, [
    dots([0, 2], "rgba(30,140,35,.38)", 17), dots(spotA2_g, DIM.g, .9), dots([0, 1], "rgba(190,120,20,.28)", 10),
    dots(spotA2_r, DIM.r, .9), dots(spotA2_y, DIM.y, .9), dots(spotA2_m, DIM.m), dots(spotA2_core, "#e810e0", 6)
]);
spot(285.7, topRows[0], pxA, [
    dots([-8, 3, 8, 3], "rgba(30,140,35,.38)", 11), dots(spotA3_g, DIM.g, .9), dots([0, 1], "rgba(190,120,20,.28)", 9),
    dots(spotA3_r, DIM.r), dots([0, -14], "rgba(150,0,150,.4)", 8), dots(spotA3_m, DIM.m),
    dots(spotA3_core, "#ff10f0", 5), dots(spotA3_y, "#f0e040")
]);
spot(85.7, topRows[1], pxA, [
    dots([-13, 5, 13, 5], "rgba(30,140,35,.4)", 6), dots(spotA4_g, "#38b030", .9),
    dots(spotA4_haze, "rgba(170,0,170,.42)", 8), dots([0, -20], "rgba(150,0,150,.32)", 11), dots(spotA4_m, DIM.m),
    dots([0, 4], "rgba(255,150,40,.55)", 5.5), dots(spotA4_core, "#ff40b8", 3.5)
]);
spot(185.7, topRows[1], pxA, [
    dots(spotA5_m, DIM.m), dots(spotA5_c, DIM.c), dots(spotA5_g, "#40d040", 1), dots(spotA5_r, DIM.r),
    dots(spotA5_blue, "#1878d0", 3), dots(spotA5_y, "#f0e020", 1.2), dots(spotA5_core, "#ffe020", 4), dots(spotA5_pink, "#ff50a0", 2.5)
]);
spot(285.7, topRows[1], pxA, [
    dots(spotA6_m, DIM.m), dots(spotA6_c, DIM.c), dots(spotA6_r, "#e02020", 1), dots(spotA6_g, "#50d020", 1.2),
    dots(spotA6_y, "#e0e820", 1.3), dots(spotA6_core, "#ffe820", 3.5), dots([0, -8], "#e02020", 2)
]);

// ---------- panel 4: spot diagram 2 ----------
const pxB = 0.708;
spot(85.3, 552.7, pxB, [
    dots(spotB1_halo, "rgba(30,140,35,.4)", 9), dots(spotB1_g, DIM.g), dots([0, 0], "rgba(220,30,30,.7)", 7),
    dots(spotB1_r, DIM.r), dots(spotB1_core, "#ef10d8", 5), dots(spotB1_orange, "#f09050", 2.5)
]);
spot(169.3, 551.7, pxB, [
    dots([0, 0], "rgba(30,140,35,.36)", 14), dots(spotB2_g, DIM.g), dots([0, 1], "rgba(190,120,20,.28)", 7),
    dots(spotB2_y, DIM.y), dots(spotB2_r, DIM.r), dots(spotB2_orange, "#f06020", 3.5), dots(spotB2_core, "#ff10f0", 2.8)
]);
spot(253.3, 551.7, pxB, [
    dots([0, 8, 0, -5], "rgba(30,140,35,.32)", 14), dots(spotB3_g, DIM.g), dots(spotB3_r, DIM.r),
    dots(spotB3_y, "#f0e020", 1.5), dots(spotB3_core, "#ff10f0", 3.2)
]);
spot(85.3, 650, pxB, [
    dots([0, 6, 0, -8], "rgba(30,140,35,.32)", 14), dots(spotB4_g, DIM.g), dots(spotB4_r, DIM.r),
    dots(spotB4_y, "#f0e020", 1.6), dots(spotB4_core, "#ff10f0", 3.3)
]);
spot(169.3, 650, pxB, [
    dots([0, 6, 0, -6], "rgba(30,140,35,.32)", 13), dots(spotB5_g, DIM.g), dots(spotB5_r, "#e03020"),
    dots(spotB5_y, "#f0e020", 1.6), dots(spotB5_m, "#f010e8", 1.2), dots(spotB5_core, "#ff10f0", 3.5)
]);
spot(253.3, 651.7, pxB, [
    dots(spotB6_m, DIM.m), dots(spotB6_c, DIM.c), dots(spotB6_g, DIM.g), dots(spotB6_r, "#e03020", 1),
    dots(spotB6_y, "#d8d010", 1.6), dots(spotB6_core, "#ff10f0", 2)
]);

// spot labels, scale bars, legends
fieldsTop.forEach((f, i) => text(`像面: ${f} mm`, 85.7 + (i % 3) * 100, i < 3 ? 171 : 289, 6, "#ccc", "c"));
fieldsBottom.forEach((f, i) => text(`像面: ${f} mm`, 85 + (i % 3) * 84, i < 3 ? 584 : 683, 5.4, "#ccc", "c"));

rule(52, 101, 1, 67, "#bbb");
rule(51, 101, 3, 1, "#bbb");
text("80.000", 49, 139, 6, "#ccc", "c", MONO, "rotate:-90deg");
rule(57, 525, 1, 57, "#bbb");
rule(56, 525, 3, 1, "#bbb");
text("80.000", 54, 553, 5.4, "#ccc", "c", MONO, "rotate:-90deg");

function spotLegend(x, y, step, size, frame) {
    if (frame) box(x - 1, y - 5, 62, step * 5 + 2, "border:1px solid #555;box-sizing:border-box");
    else rule(x - 1, y - 5, 1, step * 5 + 2, "#555");
    waveLong.forEach((w, i) => {
        box(x + 1, y + i * step - 1, 4, 4, "border:1px solid #3a8a3a;box-sizing:border-box");
        box(x + 7, y + i * step, 1.5, 1.5, `background:${waveColors[i]}`);
        text(w, x + 10, y + i * step + 1, size, "#eee");
    });
}
spotLegend(412, 59, 9.6, 10, true);
spotLegend(358, 489, 8, 8.6, false);

text("面: 像面", 0, 331, 10, "#eee", "l", CJK);
text("面: 像面", 11, 718, 8.5, "#eee", "l", CJK);

// ---------- spot info tables ----------
function spotTable(o) {
    const ln = "#4a4a4a";
    rule(o.x, o.y, o.w, 1, ln);
    rule(o.x, o.y2, o.w, 1, ln);
    rule(o.x, o.y3, o.w, 1, ln);
    rule(o.x + o.w, o.y, 1, o.y3 - o.y, ln);
    rule(o.div, o.y2, 1, o.y3 - o.y2, ln);
    rule(o.div, o.split, o.x + o.w - o.div, 1, ln);
    text("点列图", o.titleX, (o.y + o.y2) / 2, o.fs + 1, "#ccc", "c");
    text("0.5*, 2026/8/14", o.tx, o.rows[0], o.fs, "#ccc");
    text("单位是μm, 图例对应于波长", o.tx, o.rows[1], o.fs, "#ccc");
    text("视场", o.tx, o.rows[2], o.fs, "#ccc");
    text(":", o.colon, o.rows[2], o.fs, "#ccc");
    text("RMS半径 :", o.tx, o.rows[3], o.fs, "#ccc");
    text("GEO半径 :", o.tx, o.rows[4], o.fs, "#ccc");
    text("缩放标尺:", o.tx, o.rows[5], o.fs, "#ccc");
    o.rms.forEach((v, i) => {
        text(String(i + 1), o.first + 7 + i * o.step, o.rows[2], o.fs, "#ccc", "c");
        text(v, o.first + i * o.step, o.rows[3], o.fs, "#ccc", "r");
        text(o.geo[i], o.first + i * o.step, o.rows[4], o.fs, "#ccc", "r");
    });
    text("80.000", o.first, o.rows[5], o.fs, "#ccc", "r");
    text("参考", o.first + o.step * .6, o.rows[5], o.fs, "#ccc");
    text(":主光线", o.first + o.step * 1.17, o.rows[5], o.fs, "#ccc");
    text("100 MACRO GM.zmx", (o.div + o.x + o.w) / 2, o.rows[4], o.fs, "#ccc", "c");
    text("4的结构7", (o.div + o.x + o.w) / 2, o.rows[5], o.fs, "#ccc", "c");
}
spotTable({ x: 0, w: 471, y: 339, y2: 350, y3: 409, div: 313, split: 386, titleX: 235, tx: 4, colon: 48, first: 82.3, step: 41, fs: 7.4, rows: [355.7, 365, 374, 383, 392, 400.7], rms: rmsTop, geo: geoTop });
spotTable({ x: 10, w: 399, y: 724, y2: 734, y3: 784, div: 277, split: 764, titleX: 211, tx: 16, colon: 54, first: 82.3, step: 34.5, fs: 6.4, rows: [738.7, 746.7, 754.3, 762, 769.3, 776.7], rms: rmsBottom, geo: geoBottom });

// ---------- panel 2: ray fans ----------
const fanColsA = [[495, 559, 563, 628], [655, 719, 725, 789], [816, 880, 885, 949]];
const fanRowsA = [[71, 142], [216, 286]];
const fanSetA = [[fanA1y, fanA1x, pupilFull], [fanA2y, fanA2x, pupilFull], [fanA3y, fanA3x, pupilFull], [fanA4y, fanA4x, pupil12y], [fanA5y, fanA5x, pupil16y], [fanA6y, fanA6x, pupil21y]];
fanSetA.forEach((s, i) => {
    const col = fanColsA[i % 3], row = fanRowsA[i < 3 ? 0 : 1];
    fan(col[0], col[1], row[0], row[1], s[2], s[0], "ey", "Py", 2, 6);
    fan(col[2], col[3], row[0], row[1], pupilFull, s[1], "ex", "Px", 2, 6);
    text(`像面: ${fanTitles[i]} mm`, (col[1] + col[2]) / 2, row[0] - 2.5, 5, "#ccc", "c");
});

// ---------- panel 5: ray fans ----------
const fanColsB = [[492, 547, 551, 605], [628, 682, 687, 741], [764, 818, 822, 877]];
const fanRowsB = [[512, 571], [634, 693]];
const fanSetB = [[fanB1y, fanB1x, pupilFull], [fanB2y, fanB2x, pupilFull], [fanB3y, fanB3x, pupilFull], [fanB4y, fanB4x, pupilLow12y], [fanB5y, fanB5x, pupilLow16y], [fanB6y, fanB6x, pupilLow21y]];
fanSetB.forEach((s, i) => {
    const col = fanColsB[i % 3], row = fanRowsB[i < 3 ? 0 : 1];
    fan(col[0], col[1], row[0], row[1], s[2], s[0], "ey", "Py", 1.6, 5);
    fan(col[2], col[3], row[0], row[1], pupilFull, s[1], "ex", "Px", 1.6, 5);
    text(`像面: ${fanTitles[i]} mm`, (col[1] + col[2]) / 2, row[0] - 2.5, 4.6, "#ccc", "c");
});

function fanTable(o) {
    const ln = "#eee";
    rule(o.x, o.y, o.w, 1, ln);
    rule(o.x, o.y2, o.w, 1, ln);
    rule(o.x, o.y3, o.w, 1, ln);
    rule(o.x, o.y, 1, o.y3 - o.y, ln);
    rule(o.x + o.w, o.y, 1, o.y3 - o.y + 1, ln);
    rule(o.div, o.y2, 1, o.y3 - o.y2, ln);
    rule(o.div, o.split, o.x + o.w - o.div, 1, ln);
    text("横向光扇图", o.x + (o.w) / 2, (o.y + o.y2) / 2, o.title, "#ccc", "c");
    text("0.5*", o.tx, o.rows[0], o.big, "#eee");
    text("2026/8/14", o.tx, o.rows[1], o.big, "#eee");
    text("最大缩放比例: ± 40.000 μm.", o.tx, o.rows[2], o.small, "#ccc");
    waveLabels.forEach((w, i) => {
        text(w, o.tx + i * o.step, o.rows[3], o.wave, waveTextColors[i]);
        rule(o.tx + i * o.step, o.rows[4], o.step - 1, 1, waveTextColors[i]);
    });
    text("面: 像面", o.tx, o.rows[5], o.small, "#ccc");
    const c = (o.div + o.x + o.w) / 2;
    text("100 MACRO GM.zmx", c, o.nameY, o.wave, "#eee", "c");
    text("4的结构7", c, o.rows[5], o.small + .5, "#eee", "c");
}
fanTable({ x: 481, w: 482, y: 324, y2: 335, y3: 395, div: 802, split: 373, tx: 490.3, step: 48.4, title: 6, big: 8.6, small: 6, wave: 9, rows: [341.7, 350, 358.6, 370.3, 379, 390], nameY: 380.5 });
fanTable({ x: 481, w: 407, y: 726, y2: 735, y3: 785, div: 752, split: 767, tx: 488.7, step: 40.7, title: 5, big: 7.4, small: 5.3, wave: 7.6, rows: [740, 747.6, 754.6, 764.7, 772.3, 781], nameY: 773.7 });

// ---------- panels 3 and 6: MTF maps ----------
mapChart(1051, 76, 319, 211, mapA);
colorBar(1272, 86, 19, 148);
mapChart(1027, 454, 318, 210, mapB);
colorBar(1248, 463, 19, 148);

function mapTable(o) {
    const ln = "#4a4a4a";
    rule(o.x, o.y, o.w, 1, ln);
    rule(o.x, o.y2, o.w, 1, ln);
    rule(o.div, o.y2, 1, o.y3 - o.y2, ln);
    rule(o.div, o.split, o.x + o.w - o.div, 1, ln);
    text("衍射 平均子午 + 弧矢的 MTF 图", o.titleX, (o.y + o.y2) / 2, 8, "#ccc", "c");
    const lines = ["0.5*", "2026/8/14", "数据 0.4358 到 0.6563 μm.", "X 视场 = 0 ± 18 毫米, 72像素", "Y 视场 = 0 ± 12 毫米, 48像素", "空间频率: 40周期/mm"];
    lines.forEach((t, i) => text(t, o.tx, o.rows[i], 7.4, "#ccc"));
    const c = (o.div + o.x + o.w) / 2;
    text("100 MACRO GM.zmx", c, o.rows[4], 7.4, "#ccc", "c");
    text("4的结构7", c, o.rows[5], 7.4, "#ccc", "c");
}
mapTable({ x: 973, w: 467, y: 339, y2: 351, y3: 410, div: 1289, split: 387, titleX: 1211, tx: 979.7, rows: [356.7, 365.7, 374.6, 384, 392.7, 401.7] });
mapTable({ x: 949, w: 474, y: 717, y2: 728, y3: 788, div: 1265, split: 764, titleX: 1187, tx: 955, rows: [734, 743, 751.7, 761, 770, 779] });

// ---------- watermarks ----------
watermark(365, 95, 398);
watermark(857, 78, 893);
watermark(1341, 97, 1374);
watermark(363, 528, 397);
watermark(829, 526, 865);
watermark(1317, 473, 1351);
</script>
</body>
</html>
